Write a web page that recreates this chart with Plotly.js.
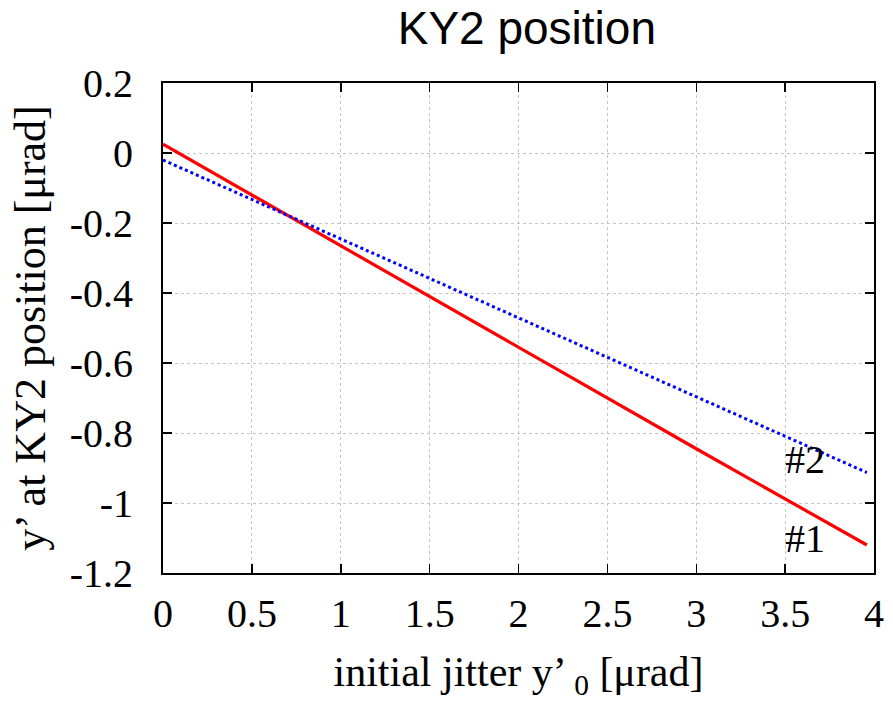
<!DOCTYPE html>
<html>
<head>
<meta charset="utf-8">
<script src="https://cdn.plot.ly/plotly-3.0.1.min.js"></script>
<style>
  html, body { margin: 0; padding: 0; background: #ffffff; }
  #chart { width: 893px; height: 701px; }
</style>
</head>
<body>
<div id="chart"></div>
<script>
// Initial jitter y'0 [µrad]
const jitter1 = [0, 1, 2, 3, 3.96];
const jitter2 = [0, 1, 2, 3, 3.96];
// Resulting y' at the KY2 position [µrad], cases #1 and #2
const kickCase1 = [0.025, -0.265, -0.555, -0.845, -1.12];
const kickCase2 = [-0.02, -0.246, -0.471, -0.697, -0.913];

const xTickVals = [0, 0.5, 1, 1.5, 2, 2.5, 3, 3.5, 4];
const xTickText = ['0', '0.5', '1', '1.5', '2', '2.5', '3', '3.5', '4'];
const yTickVals = [0.2, 0, -0.2, -0.4, -0.6, -0.8, -1, -1.2];
const yTickText = ['0.2', '0', '-0.2', '-0.4', '-0.6', '-0.8', '-1', '-1.2'];

const caseLabels = ['#1', '#2'];
const labelX = [3.61, 3.61];
const labelY = [-1.10, -0.875];

const serif = 'Liberation Serif, Times New Roman, serif';

const traces = [
  {
    x: jitter1, y: kickCase1, mode: 'lines', name: '#1',
    line: { color: '#ff0000', width: 3.2 }
  },
  {
    x: jitter2, y: kickCase2, mode: 'lines', name: '#2',
    line: { color: '#0000ff', width: 3, dash: 'dot' }
  }
];

const axisCommon = {
  showline: true, linecolor: '#000000', linewidth: 2, mirror: 'allticks',
  ticks: 'inside', ticklen: 9, tickwidth: 1.5, tickcolor: '#000000',
  showgrid: true, gridcolor: '#c4c4c4', gridwidth: 1, griddash: 'dot',
  zeroline: false, automargin: false,
  tickfont: { family: serif, size: 40, color: '#000000' }
};

const layout = {
  width: 893, height: 701,
  margin: { l: 163, r: 19, t: 83, b: 128 },
  paper_bgcolor: '#ffffff', plot_bgcolor: '#ffffff',
  showlegend: false,
  title: {
    text: 'KY2 position',
    font: { family: 'Liberation Sans, Arial, sans-serif', size: 46, color: '#000000' },
    xref: 'container', x: 0.59, xanchor: 'center',
    yref: 'container', y: 0.983, yanchor: 'top'
  },
  xaxis: Object.assign({}, axisCommon, {
    range: [0, 4], tickvals: xTickVals, ticktext: xTickText,
    ticklabelstandoff: 4,
    title: {
      text: 'initial jitter y’ <sub>0</sub> [μrad]',
      font: { family: serif, size: 42, color: '#000000' },
      standoff: 36
    }
  }),
  yaxis: Object.assign({}, axisCommon, {
    range: [-1.2, 0.2], tickvals: yTickVals, ticktext: yTickText,
    ticklabelstandoff: 20,
    title: {
      text: 'y’ at KY2 position [μrad]',
      font: { family: serif, size: 44, color: '#000000' },
      standoff: 10
    }
  }),
  annotations: caseLabels.map((t, i) => ({
    text: t, x: labelX[i], y: labelY[i], xref: 'x', yref: 'y',
    showarrow: false, xanchor: 'center', yanchor: 'middle',
    font: { family: serif, size: 40, color: '#000000' }
  }))
};

Plotly.newPlot('chart', traces, layout, { displayModeBar: false, staticPlot: true });
</script>
</body>
</html>
